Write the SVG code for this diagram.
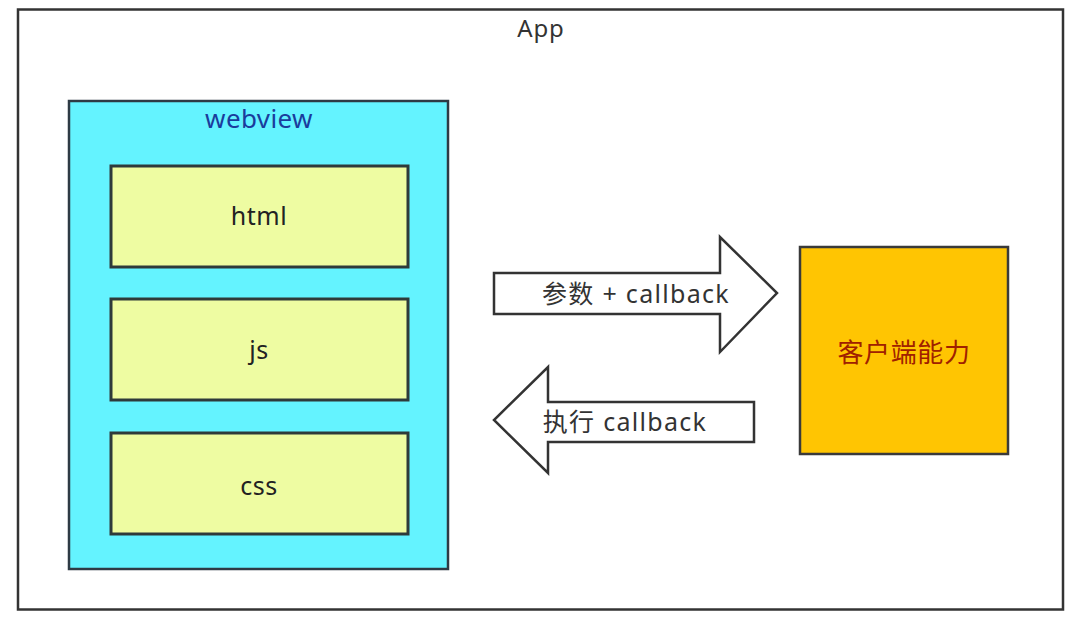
<svg xmlns="http://www.w3.org/2000/svg" width="1073" height="623" viewBox="0 0 1073 623">
  <style>
    text { font-family: "Noto Sans", "Liberation Sans", "Noto Sans CJK SC", sans-serif; text-anchor: middle; }
    .box { fill: #eefca2; stroke: #2e3a3a; stroke-width: 3; }
    .lbl { font-size: 25px; fill: #222; letter-spacing: 0.5px; }
    .arrow { fill: #ffffff; stroke: #333; stroke-width: 2.5; stroke-linejoin: miter; }
    .alabel { font-size: 25px; fill: #333; letter-spacing: 1.3px; }
  </style>
  <rect width="1073" height="623" fill="#ffffff"/>
  <g id="app">
    <rect x="18" y="9.5" width="1045" height="600" fill="#ffffff" stroke="#333" stroke-width="2.5"/>
    <text x="541" y="37" font-size="24" fill="#333" letter-spacing="0.8">App</text>
  </g>
  <g id="webview">
    <rect x="69" y="101" width="379" height="468" fill="#64f3ff" stroke="#2e3a44" stroke-width="2.5"/>
    <text x="259" y="128" font-size="26" fill="#1a3c9c" letter-spacing="0.4">webview</text>
  </g>
  <g id="html">
    <rect class="box" x="111" y="166" width="297" height="101"/>
    <text class="lbl" x="259" y="225">html</text>
  </g>
  <g id="js">
    <rect class="box" x="111" y="299" width="297" height="101"/>
    <text class="lbl" x="259" y="359">js</text>
  </g>
  <g id="css">
    <rect class="box" x="111" y="433" width="297" height="101"/>
    <text class="lbl" x="259" y="495">css</text>
  </g>
  <g id="client">
    <rect x="800" y="247" width="208" height="207" fill="#ffc502" stroke="#3a3a3a" stroke-width="2.5"/>
    <text x="904" y="362" font-size="26" fill="#a02000" letter-spacing="0.6">客户端能力</text>
  </g>
  <g id="connectors">
    <polygon class="arrow" points="494,273 720,273 720,237 777,293 720,352 720,314 494,314"/>
    <text class="alabel" x="636" y="303">参数 + callback</text>
    <polygon class="arrow" points="754,402 548,402 548,367 494,420 548,473 548,442 754,442"/>
    <text class="alabel" x="625" y="431">执行 callback</text>
  </g>
</svg>
